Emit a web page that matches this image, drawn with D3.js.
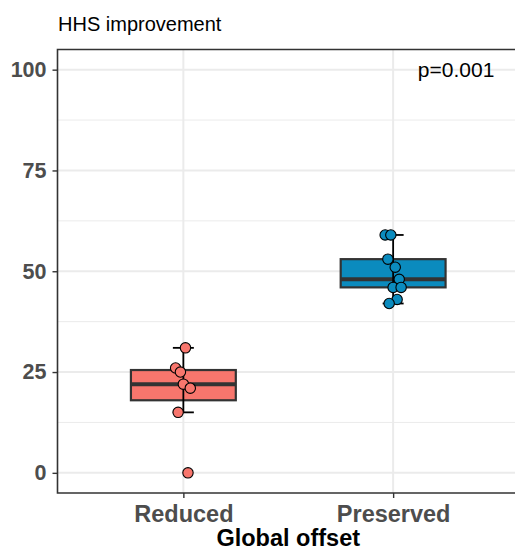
<!DOCTYPE html>
<html lang="en">
  <head>
    <meta charset="UTF-8" />
    <title>HHS improvement</title>
    <script src="https://d3js.org/d3.v7.min.js"></script>
    <style>
      body { margin: 0; background: #fff; }
      svg text { font-family: "Liberation Sans", Arial, sans-serif; }
    </style>
  </head>
  <body>
    <svg class="box-chart"></svg>

    <script>
      let width = 515
      let height = 550

      // data
      let categories = ['Reduced', 'Preserved']
      let reducedValues = [31, 26, 25, 22, 21, 15, 0]
      let preservedValues = [59, 59, 53, 51, 48, 46, 46, 43, 42]
      // horizontal jitter of each point, in category units
      let reducedJitter = [0.01, -0.037, -0.014, 0, 0.033, -0.025, 0.022]
      let preservedJitter = [-0.038, -0.011, -0.025, 0.01, 0.029, 0, 0.038, 0.019, -0.019]
      let fills = ['#F8766D', '#0B8BBE']
      let yTicks = [0, 25, 50, 75, 100]
      let yMinor = [12.5, 37.5, 62.5, 87.5]
      let pLabel = 'p=0.001'

      let panel = { left: 57.5, top: 49.5, right: 519, bottom: 493 }

      let svg = d3.select('svg.box-chart')
        .attr('width', width)
        .attr('height', height)

      let x = d3.scalePoint()
        .domain(categories)
        .range([panel.left, panel.right])
        .padding(0.6)
      let step = x.step()

      let y = d3.scaleLinear()
        .domain([-5, 105])
        .range([panel.bottom, panel.top])

      let groups = [
        { name: categories[0], values: reducedValues, jitter: reducedJitter, fill: fills[0] },
        { name: categories[1], values: preservedValues, jitter: preservedJitter, fill: fills[1] },
      ]

      groups.forEach(g => {
        let s = g.values.slice().sort(d3.ascending)
        g.q1 = d3.quantile(s, 0.25)
        g.med = d3.quantile(s, 0.5)
        g.q3 = d3.quantile(s, 0.75)
        let iqr = g.q3 - g.q1
        g.lo = d3.min(s.filter(v => v >= g.q1 - 1.5 * iqr))
        g.hi = d3.max(s.filter(v => v <= g.q3 + 1.5 * iqr))
      })

      // grid
      let grid = svg.append('g')
      grid.selectAll('line.minor')
        .data(yMinor)
        .enter()
        .append('line')
        .attr('x1', panel.left).attr('x2', panel.right)
        .attr('y1', d => y(d)).attr('y2', d => y(d))
        .style('stroke', '#EBEBEB').style('stroke-width', 1)
      grid.selectAll('line.major')
        .data(yTicks)
        .enter()
        .append('line')
        .attr('x1', panel.left).attr('x2', panel.right)
        .attr('y1', d => y(d)).attr('y2', d => y(d))
        .style('stroke', '#EBEBEB').style('stroke-width', 2)
      grid.selectAll('line.vert')
        .data(categories)
        .enter()
        .append('line')
        .attr('x1', d => x(d)).attr('x2', d => x(d))
        .attr('y1', panel.top).attr('y2', panel.bottom)
        .style('stroke', '#EBEBEB').style('stroke-width', 2)

      // boxes
      let boxW = 0.5 * step
      let boxes = svg.append('g')
        .selectAll('g')
        .data(groups)
        .enter()
        .append('g')

      boxes.append('rect')
        .attr('x', d => x(d.name) - boxW / 2)
        .attr('width', boxW)
        .attr('y', d => y(d.q3))
        .attr('height', d => y(d.q1) - y(d.q3))
        .style('fill', d => d.fill)
        .style('stroke', '#333333')
        .style('stroke-width', 2.2)

      boxes.append('line')
        .attr('x1', d => x(d.name) - boxW / 2)
        .attr('x2', d => x(d.name) + boxW / 2)
        .attr('y1', d => y(d.med)).attr('y2', d => y(d.med))
        .style('stroke', '#333333')
        .style('stroke-width', 4)

      // error bar whiskers
      let capW = 0.1 * step
      boxes.append('line')
        .attr('x1', d => x(d.name)).attr('x2', d => x(d.name))
        .attr('y1', d => y(d.hi)).attr('y2', d => y(d.lo))
        .style('stroke', '#000').style('stroke-width', 1.8)
      boxes.append('line')
        .attr('x1', d => x(d.name) - capW / 2).attr('x2', d => x(d.name) + capW / 2)
        .attr('y1', d => y(d.hi)).attr('y2', d => y(d.hi))
        .style('stroke', '#000').style('stroke-width', 1.8)
      boxes.append('line')
        .attr('x1', d => x(d.name) - capW / 2).attr('x2', d => x(d.name) + capW / 2)
        .attr('y1', d => y(d.lo)).attr('y2', d => y(d.lo))
        .style('stroke', '#000').style('stroke-width', 1.8)

      // jittered points
      let points = []
      groups.forEach(g => g.values.forEach((v, i) =>
        points.push({ name: g.name, value: v, jit: g.jitter[i], fill: g.fill })))

      svg.append('g')
        .selectAll('circle')
        .data(points)
        .enter()
        .append('circle')
        .attr('cx', d => x(d.name) + d.jit * step)
        .attr('cy', d => y(d.value))
        .attr('r', 5.2)
        .style('fill', d => d.fill)
        .style('stroke', '#000')
        .style('stroke-width', 1.1)

      // panel border lines (left, top, bottom)
      svg.append('path')
        .attr('d', `M${panel.right},${panel.top}H${panel.left}V${panel.bottom}H${panel.right}`)
        .style('fill', 'none')
        .style('stroke', '#333333')
        .style('stroke-width', 1.6)

      // y axis
      let yAxis = svg.append('g')
        .attr('transform', `translate(${panel.left},0)`)
        .call(d3.axisLeft(y).tickValues(yTicks).tickSize(5).tickPadding(6))
      yAxis.select('.domain').remove()
      yAxis.selectAll('line').style('stroke', '#333333').style('stroke-width', 1.4)
      yAxis.selectAll('text')
        .style('font-size', '21.5px')
        .style('font-weight', 'bold')
        .style('fill', '#4D4D4D')

      // x axis
      let xAxis = svg.append('g')
        .attr('transform', `translate(0,${panel.bottom})`)
        .call(d3.axisBottom(x).tickSize(5).tickPadding(7))
      xAxis.select('.domain').remove()
      xAxis.selectAll('line').style('stroke', '#333333').style('stroke-width', 1.4)
      xAxis.selectAll('text')
        .style('font-size', '23.5px')
        .style('font-weight', 'bold')
        .style('fill', '#4D4D4D')

      // titles
      svg.append('text')
        .attr('x', 58)
        .attr('y', 31)
        .style('font-size', '20px')
        .style('fill', '#000')
        .text('HHS improvement')

      svg.append('text')
        .attr('x', (x(categories[0]) + x(categories[1])) / 2)
        .attr('y', 546)
        .attr('text-anchor', 'middle')
        .style('font-size', '23.5px')
        .style('font-weight', 'bold')
        .style('fill', '#000')
        .text('Global offset')

      svg.append('text')
        .attr('x', x(categories[1]) + 0.3 * step)
        .attr('y', y(100))
        .attr('dy', '0.36em')
        .attr('text-anchor', 'middle')
        .style('font-size', '21px')
        .style('fill', '#000')
        .text(pLabel)
    </script>
  </body>
</html>
